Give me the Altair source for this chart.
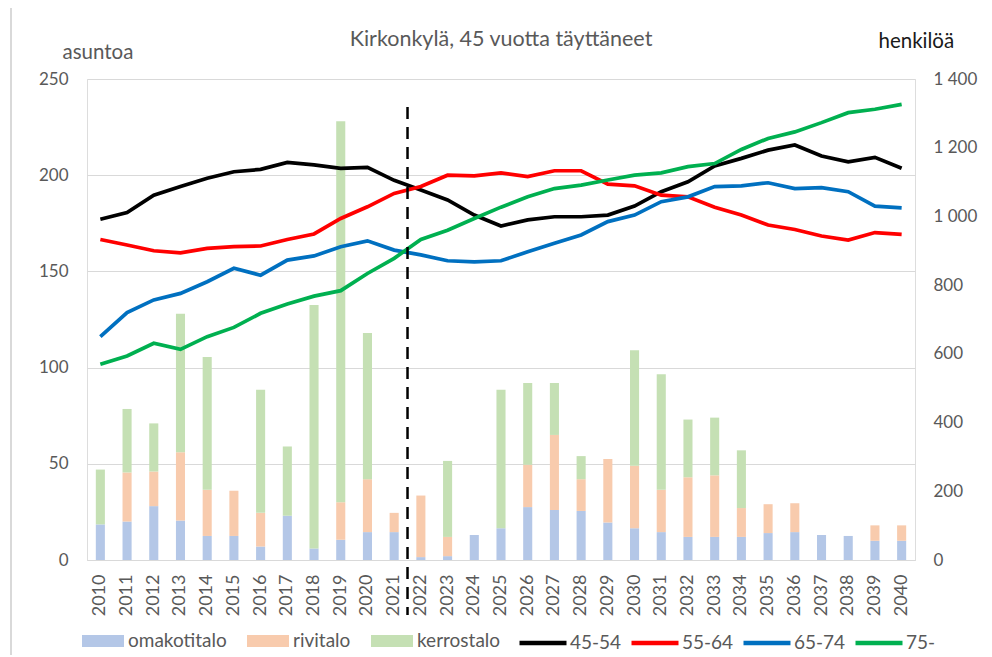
import altair as alt
import pandas as pd

# ---------------- data ----------------
years = ["2010", "2011", "2012", "2013", "2014", "2015", "2016", "2017", "2018", "2019",
         "2020", "2021", "2022", "2023", "2024", "2025", "2026", "2027", "2028", "2029",
         "2030", "2031", "2032", "2033", "2034", "2035", "2036", "2037", "2038", "2039", "2040"]

# dwellings (left axis, "asuntoa")
omakotitalo = [18.5, 20, 28, 20.5, 12.5, 12.5, 7, 23, 6, 10.5,
               14.5, 14.5, 1.5, 2, 13, 16.5, 27.5, 26, 25.5, 19.5,
               16.5, 14.5, 12, 12, 12, 14, 14.5, 13, 12.5, 10, 10]
rivitalo = [0, 25.5, 18, 35.5, 24, 23.5, 17.5, 0, 0, 19.5,
            27.5, 10, 32, 10, 0, 0, 22, 39, 16.5, 33,
            32.5, 22, 31, 32, 15, 15, 15, 0, 0, 8, 8]
kerrostalo = [28.5, 33, 25, 72, 69, 0, 64, 36, 126.5, 198,
              76, 0, 0, 39.5, 0, 72, 42.5, 27, 12, 0,
              60, 60, 30, 30, 30, 0, 0, 0, 0, 0, 0]

# persons (right axis, "henkilöä")
age_45_54 = [992, 1011, 1062, 1087, 1111, 1130, 1137, 1157, 1150, 1140,
             1143, 1105, 1077, 1048, 1004, 972, 990, 999, 999, 1004,
             1030, 1072, 1101, 1147, 1169, 1193, 1208, 1176, 1159, 1172, 1140]
age_55_64 = [933, 917, 900, 894, 907, 912, 914, 933, 949, 994,
             1028, 1067, 1087, 1120, 1118, 1127, 1116, 1133, 1133, 1094,
             1089, 1062, 1057, 1027, 1004, 975, 962, 943, 931, 953, 948]
age_65_74 = [650, 720, 757, 776, 810, 849, 829, 873, 885, 912,
             929, 902, 888, 871, 868, 871, 897, 922, 946, 985,
             1004, 1043, 1057, 1087, 1089, 1098, 1081, 1084, 1072, 1030, 1025]
age_75 = [570, 594, 631, 613, 650, 677, 718, 745, 768, 784,
          834, 878, 933, 960, 994, 1027, 1057, 1081, 1091, 1106,
          1120, 1127, 1145, 1154, 1195, 1227, 1246, 1273, 1302, 1312, 1326]

bar_types = ["omakotitalo", "rivitalo", "kerrostalo"]
bar_colors = ["#B4C7E7", "#F8CBAD", "#C5E0B4"]
line_groups = ["45-54", "55-64", "65-74", "75-"]
line_colors = ["#000000", "#FF0000", "#0070C0", "#00B050"]

left_ticks = [0, 50, 100, 150, 200, 250]
right_ticks = [0, 200, 400, 600, 800, 1000, 1200, 1400]
forecast_start_after = "2021"

# ---------------- tables ----------------
bar_rows = []
for k, (name, vals) in enumerate(zip(bar_types, [omakotitalo, rivitalo, kerrostalo])):
    for y, v in zip(years, vals):
        bar_rows.append({"vuosi": y, "tyyppi": name, "asuntoa": v, "jarj": k})
bars_df = pd.DataFrame(bar_rows)

line_rows = []
for name, vals in zip(line_groups, [age_45_54, age_55_64, age_65_74, age_75]):
    for y, v in zip(years, vals):
        line_rows.append({"vuosi": y, "ikä": name, "henkilöä": v})
lines_df = pd.DataFrame(line_rows)

rule_df = pd.DataFrame({"vuosi": [forecast_start_after]})

# ---------------- chart ----------------
FONT = "Lato"
GRAY = "#595959"
W, H = 828, 481
STEP = W / len(years)

x_scale = alt.Scale(domain=years, paddingInner=0.66, paddingOuter=0.33)

bars = alt.Chart(bars_df).mark_bar().encode(
    x=alt.X("vuosi:O", scale=x_scale, title=None,
            axis=alt.Axis(labelAngle=270, ticks=False, domain=True, domainColor="#D9D9D9",
                          labelPadding=14, grid=False, labelColor=GRAY,
                          labelFontSize=18, labelFont=FONT)),
    y=alt.Y("asuntoa:Q", stack="zero", scale=alt.Scale(domain=[0, 250], nice=False),
            axis=alt.Axis(values=left_ticks, grid=True, gridColor="#D9D9D9", domain=False,
                          ticks=False, labelPadding=19, labelColor=GRAY, labelFontSize=17,
                          labelFont=FONT, title="asuntoa", titleAngle=0, titleAlign="left",
                          titleBaseline="alphabetic", titleX=-25, titleY=-21,
                          titleColor=GRAY, titleFontSize=20.5, titleFontWeight="normal",
                          titleFont=FONT)),
    color=alt.Color("tyyppi:N", scale=alt.Scale(domain=bar_types, range=bar_colors),
                    legend=alt.Legend(orient="none", legendX=-5, legendY=541,
                                      direction="horizontal", columns=3, title=None,
                                      symbolType="M-1,-0.28H1V0.28H-1Z", symbolSize=1764,
                                      symbolStrokeWidth=0, labelOffset=4, columnPadding=20,
                                      labelFont=FONT, labelFontSize=19, labelColor=GRAY)),
    order=alt.Order("jarj:Q", sort="ascending"),
)

lines = alt.Chart(lines_df).mark_line(strokeWidth=3.7).encode(
    x=alt.X("vuosi:O", scale=x_scale),
    y=alt.Y("henkilöä:Q", scale=alt.Scale(domain=[0, 1400], nice=False),
            axis=alt.Axis(orient="right", values=right_ticks, grid=False, domain=False,
                          ticks=False, labelPadding=18, labelColor=GRAY, labelFontSize=17,
                          labelFont=FONT,
                          labelExpr="replace(format(datum.value, ','), ',', ' ')",
                          title="henkilöä", titleAngle=0, titleAlign="left",
                          titleBaseline="alphabetic", titleX=-37, titleY=-32,
                          titleColor="#1a1a1a", titleFontSize=20.5, titleFontWeight="normal",
                          titleFont=FONT)),
    color=alt.Color("ikä:N", scale=alt.Scale(domain=line_groups, range=line_colors),
                    legend=alt.Legend(orient="none", legendX=430, legendY=538,
                                      direction="horizontal", columns=4, title=None,
                                      symbolType="stroke", symbolSize=2209,
                                      symbolStrokeWidth=4.5, labelOffset=1, columnPadding=0,
                                      labelFont=FONT, labelFontSize=19, labelColor=GRAY)),
)

rule = alt.Chart(rule_df).mark_rule(
    color="black", strokeWidth=2.5, strokeDash=[12, 8], xOffset=STEP / 2
).encode(
    x=alt.X("vuosi:O", scale=x_scale),
    y=alt.value(28),
    y2=alt.value(536),
)

frame = alt.Chart(rule_df).mark_rect(
    fill=None, stroke="#D9D9D9", strokeWidth=2
).encode(
    x=alt.value(-76), x2=alt.value(898), y=alt.value(-73), y2=alt.value(600),
)

chart = alt.layer(frame, bars, lines, rule).resolve_scale(
    y="independent", color="independent"
).properties(
    width=W,
    height=H,
    autosize=alt.AutoSizeParams(type="none"),
    padding={"left": 79, "top": 71, "right": 69, "bottom": 95},
    title=alt.TitleParams("Kirkonkylä, 45 vuotta täyttäneet", anchor="middle",
                          font=FONT, fontSize=21.5, fontWeight="normal", color=GRAY,
                          offset=-45),
).configure_view(stroke=None).configure(font=FONT, background="white")

chart.save("out.html", embed_options={"renderer": "svg", "actions": False})
